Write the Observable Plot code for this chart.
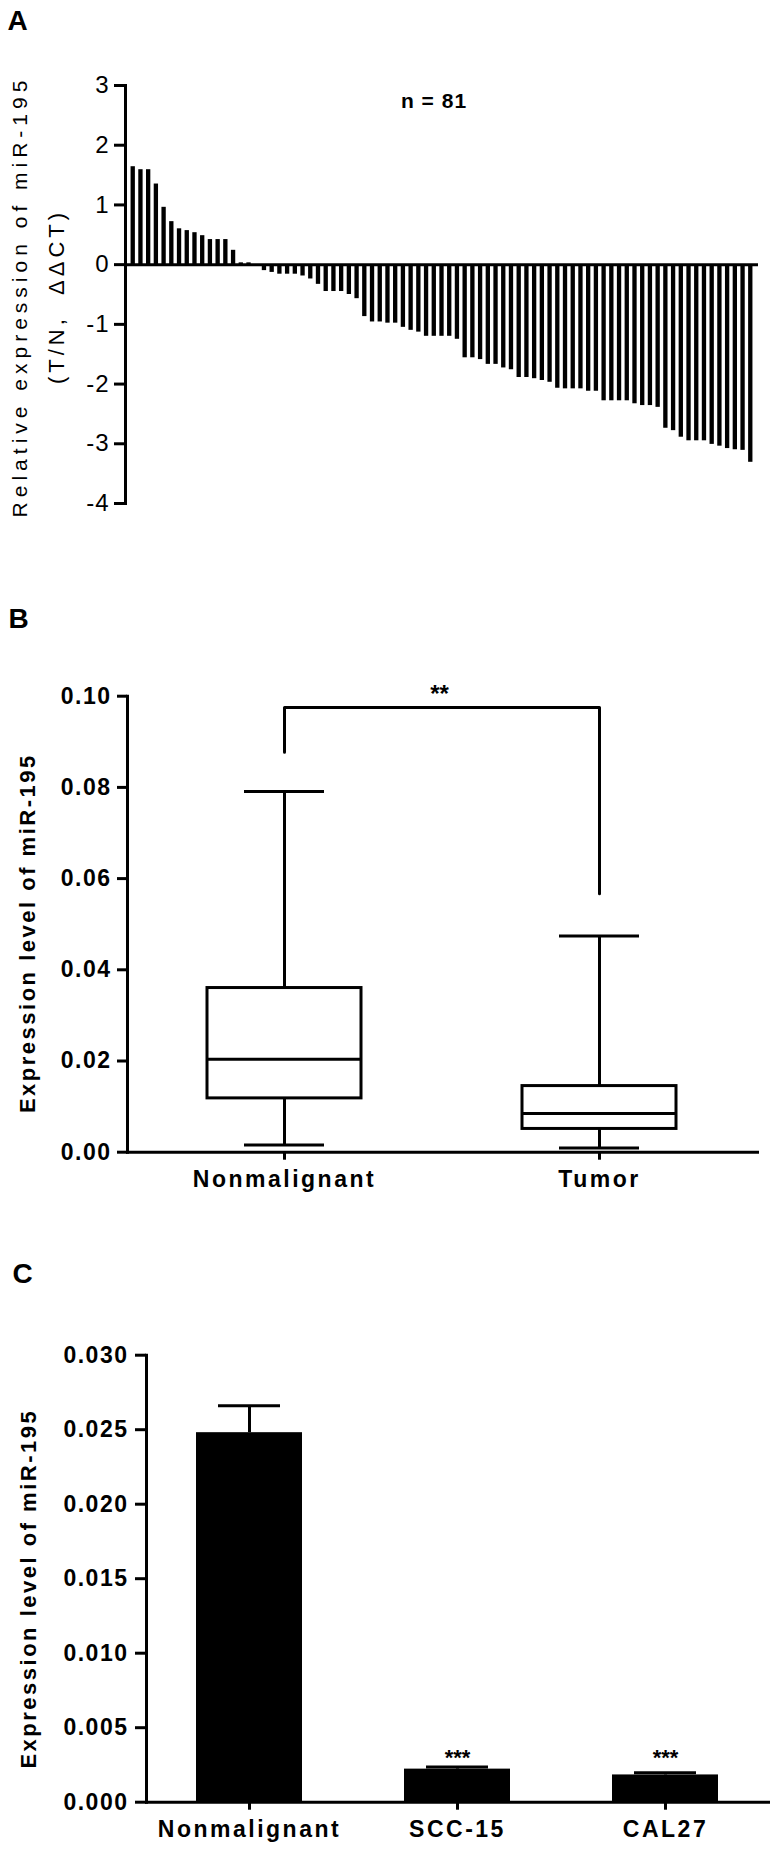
<!DOCTYPE html>
<html><head><meta charset="utf-8">
<script src="https://cdn.jsdelivr.net/npm/d3@7"></script>
<script src="https://cdn.jsdelivr.net/npm/@observablehq/plot@0.6"></script>
<style>
body{margin:0;background:#fff;}
#page{position:relative;width:772px;height:1852px;overflow:hidden;background:#fff;}
#page > div{position:absolute;left:0;width:772px;}
</style></head>
<body><div id="page"><div id="a" style="top:0px"></div><div id="b" style="top:560px"></div><div id="c" style="top:1240px"></div></div>
<script>
const FONT = '"Liberation Sans", Arial, Helvetica, sans-serif';

// ---------- Panel A: per-case relative expression (T/N, ΔΔCT), sorted ----------
const nCases = 81;
const foldChanges = [1.64, 1.59, 1.59, 1.35, 0.96, 0.72, 0.60, 0.57, 0.535, 0.485, 0.42, 0.42, 0.42, 0.24, 0.03, 0.03, 0.0,
  -0.10, -0.13, -0.16, -0.16, -0.16, -0.19, -0.24, -0.33, -0.45, -0.45, -0.45, -0.50, -0.57, -0.87, -0.96, -0.96, -0.98, -0.98,
  -1.05, -1.10, -1.13, -1.20, -1.20, -1.20, -1.20, -1.25, -1.56, -1.56, -1.59, -1.67, -1.67, -1.73, -1.76, -1.89, -1.89, -1.91,
  -1.94, -1.97, -2.07, -2.08, -2.08, -2.08, -2.12, -2.12, -2.28, -2.28, -2.28, -2.28, -2.33, -2.36, -2.36, -2.39, -2.74, -2.78,
  -2.89, -2.95, -2.95, -2.95, -3.01, -3.04, -3.08, -3.10, -3.11, -3.31];
const yTicksA = [-4, -3, -2, -1, 0, 1, 2, 3];
const titleA1 = "Relative expression of miR-195";
const titleA2 = "(T/N,  \u0394\u0394CT)";

// ---------- Panel B: box plot ----------
const boxGroups = ["Nonmalignant", "Tumor"];
const whiskerLow = [0.0016, 0.0009];
const q1s = [0.0118, 0.0051];
const medians = [0.0204, 0.0085];
const q3s = [0.0360, 0.0145];
const whiskerHigh = [0.0791, 0.0474];
const bracketTop = 0.0975;
const bracketLegs = [0.0877, 0.0567];
const sigB = "**";
const yTicksB = [0, 0.02, 0.04, 0.06, 0.08, 0.10];

// ---------- Panel C: cell lines ----------
const cells = ["Nonmalignant", "SCC-15", "CAL27"];
const cellMeans = [0.0248, 0.00222, 0.00183];
const cellSDs = [0.0018, 0.00015, 0.00015];
const cellSig = ["", "***", "***"];
const cellSigY = [0.0030, 0.0030, 0.0030];
const yTicksC = [0, 0.005, 0.010, 0.015, 0.020, 0.025, 0.030];

const yTitleBC = "Expression level of miR-195";

function styleSvg(svg, opts) {
  const s = d3.select(svg);
  s.selectAll("line, path").attr("stroke-width", 3);
  s.selectAll('[aria-label^="y-axis"] text')
    .style("font-size", opts.yFont + "px").style("font-weight", opts.weight)
    .style("letter-spacing", opts.ySpace + "px").style("font-family", FONT).attr("fill", "#000");
  s.selectAll('[aria-label^="x-axis"] text')
    .style("font-size", opts.xFont + "px").style("font-weight", opts.weight)
    .style("letter-spacing", opts.xSpace + "px").style("font-family", FONT).attr("fill", "#000");
  for (const [txt, sp] of opts.spacing || []) {
    s.selectAll("text").filter(function () { return this.textContent === txt; }).style("letter-spacing", sp + "px");
  }
}

// Panel A
const idx = foldChanges.map((_, i) => i + 1);
const dataA = idx.map(i => ({case: i, value: foldChanges[i - 1]}));
const plotA = Plot.plot({
  width: 772, height: 540,
  marginTop: 85, marginBottom: 37, marginLeft: 125, marginRight: 14,
  style: {fontFamily: FONT, fontSize: "22px", color: "#000", background: "#fff", overflow: "visible"},
  x: {type: "band", domain: idx, paddingInner: 0.44, paddingOuter: 0.72, axis: null},
  y: {domain: [-4, 3], ticks: yTicksA, tickFormat: d => String(d), tickSize: 11, tickPadding: 5, line: true, label: null},
  marks: [
    Plot.barY(dataA, {x: "case", y: "value", fill: "#000"}),
    Plot.ruleY([0], {stroke: "#000", strokeWidth: 3}),
    Plot.text(["A"], {text: d => d, frameAnchor: "top-left", textAnchor: "start", lineAnchor: "top", dx: -118, dy: -75, fontSize: 28, fontWeight: "bold"}),
    Plot.text([`n = ${nCases}`], {text: d => d, frameAnchor: "top", textAnchor: "middle", lineAnchor: "top", dx: -8, dy: 8, fontSize: 21, fontWeight: "bold"}),
    Plot.text([titleA1], {text: d => d, frameAnchor: "left", textAnchor: "middle", lineAnchor: "middle", rotate: -90, dx: -105, dy: 2, fontSize: 21}),
    Plot.text([titleA2], {text: d => d, frameAnchor: "left", textAnchor: "middle", lineAnchor: "middle", rotate: -90, dx: -69, dy: 2, fontSize: 22})
  ]
});
styleSvg(plotA, {yFont: 24, xFont: 24, ySpace: 1, xSpace: 1, weight: "normal",
  spacing: [[titleA1, 5], [titleA2, 4], [`n = ${nCases}`, 1]]});
document.getElementById("a").appendChild(plotA);

// Panel B
const boxData = boxGroups.map((g, i) => ({group: g, lo: whiskerLow[i], q1: q1s[i], med: medians[i], q3: q3s[i], hi: whiskerHigh[i]}));
const bracketPts = [
  {group: boxGroups[0], y: bracketLegs[0]},
  {group: boxGroups[0], y: bracketTop},
  {group: boxGroups[1], y: bracketTop},
  {group: boxGroups[1], y: bracketLegs[1]}
];
const plotB = Plot.plot({
  width: 772, height: 680,
  marginTop: 135.7, marginBottom: 88.3, marginLeft: 127, marginRight: 15,
  style: {fontFamily: FONT, fontSize: "22px", fontWeight: "bold", color: "#000", background: "#fff", overflow: "visible"},
  x: {type: "band", domain: boxGroups, paddingInner: 0.51, paddingOuter: 0.255, tickSize: 8, tickPadding: 10, line: true, label: null},
  y: {domain: [0, 0.1], ticks: yTicksB, tickFormat: d3.format(".2f"), tickSize: 10, tickPadding: 6, line: true, label: null},
  marks: [
    Plot.ruleX(boxData, {x: "group", y1: "lo", y2: "q1", stroke: "#000", strokeWidth: 3}),
    Plot.ruleX(boxData, {x: "group", y1: "q3", y2: "hi", stroke: "#000", strokeWidth: 3}),
    Plot.tickY(boxData, {x: "group", y: "lo", stroke: "#000", strokeWidth: 3, insetLeft: 37, insetRight: 37}),
    Plot.tickY(boxData, {x: "group", y: "hi", stroke: "#000", strokeWidth: 3, insetLeft: 37, insetRight: 37}),
    Plot.barY(boxData, {x: "group", y1: "q1", y2: "q3", fill: "none", stroke: "#000", strokeWidth: 3}),
    Plot.tickY(boxData, {x: "group", y: "med", stroke: "#000", strokeWidth: 3}),
    Plot.line(bracketPts, {x: "group", y: "y", stroke: "#000", strokeWidth: 3, curve: "linear"}),
    Plot.text([{label: sigB, y: bracketTop}], {y: "y", text: "label", frameAnchor: "middle", textAnchor: "middle", dx: -3, dy: -13, fontSize: 24, fontWeight: "bold"}),
    Plot.text(["B"], {text: d => d, frameAnchor: "top-left", textAnchor: "start", lineAnchor: "top", dx: -119, dy: -88, fontSize: 28, fontWeight: "bold"}),
    Plot.text([yTitleBC], {text: d => d, frameAnchor: "left", textAnchor: "middle", lineAnchor: "middle", rotate: -90, dx: -100, dy: 9, fontSize: 22, fontWeight: "bold"})
  ]
});
styleSvg(plotB, {yFont: 23, xFont: 23, ySpace: 1.5, xSpace: 2.5, weight: "bold", spacing: [[yTitleBC, 2.5]]});
document.getElementById("b").appendChild(plotB);

// Panel C
const cData = cells.map((c, i) => ({cell: c, mean: cellMeans[i], sd: cellSDs[i], sig: cellSig[i], sigY: cellSigY[i]}));
const plotC = Plot.plot({
  width: 772, height: 612,
  marginTop: 114.7, marginBottom: 50.3, marginLeft: 146, marginRight: 4,
  style: {fontFamily: FONT, fontSize: "22px", fontWeight: "bold", color: "#000", background: "#fff", overflow: "visible"},
  x: {type: "band", domain: cells, paddingInner: 0.49, paddingOuter: 0.24, tickSize: 8, tickPadding: 10, line: true, label: null},
  y: {domain: [0, 0.03], ticks: yTicksC, tickFormat: d3.format(".3f"), tickSize: 11, tickPadding: 7, line: true, label: null},
  marks: [
    Plot.ruleX(cData, {x: "cell", y1: "mean", y2: d => d.mean + d.sd, stroke: "#000", strokeWidth: 3}),
    Plot.tickY(cData, {x: "cell", y: d => d.mean + d.sd, stroke: "#000", strokeWidth: 3, insetLeft: 22, insetRight: 22}),
    Plot.barY(cData, {x: "cell", y: "mean", fill: "#000"}),
    Plot.text(cData, {x: "cell", y: "sigY", text: "sig", fontSize: 22, fontWeight: "bold"}),
    Plot.text(["C"], {text: d => d, frameAnchor: "top-left", textAnchor: "start", lineAnchor: "top", dx: -134, dy: -92, fontSize: 28, fontWeight: "bold"}),
    Plot.text([yTitleBC], {text: d => d, frameAnchor: "left", textAnchor: "middle", lineAnchor: "middle", rotate: -90, dx: -118, dy: 10, fontSize: 22, fontWeight: "bold"})
  ]
});
styleSvg(plotC, {yFont: 23, xFont: 23, ySpace: 1.5, xSpace: 2.5, weight: "bold", spacing: [[yTitleBC, 2.5]]});
document.getElementById("c").appendChild(plotC);
</script>
</body></html>
